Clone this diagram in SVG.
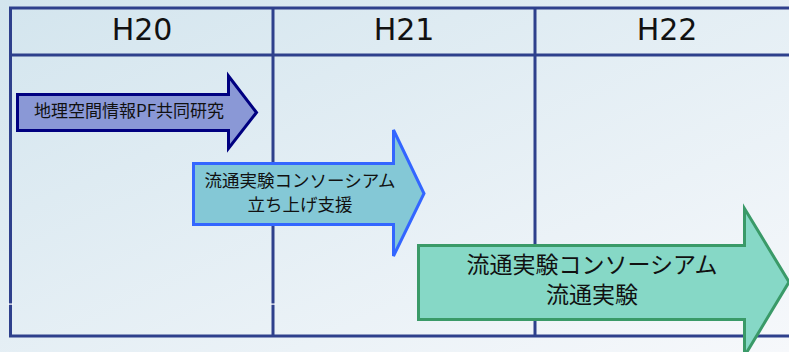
<svg xmlns="http://www.w3.org/2000/svg" width="789" height="352" viewBox="0 0 789 352">
<defs>
<linearGradient id="bg" x1="0" y1="0" x2="1" y2="1">
<stop offset="0" stop-color="#d3e5ee"/>
<stop offset="1" stop-color="#f6f8fb"/>
</linearGradient>
<style>
.grid{fill:none;stroke:#2e408c;stroke-width:3}
.hdr{font-family:"DejaVu Sans","Noto Sans",sans-serif;font-size:30px;fill:#111;text-anchor:middle}
.lbl{font-family:"Noto Sans CJK JP","Noto Sans",sans-serif;fill:#111;text-anchor:middle}
</style>
</defs>
<rect x="0" y="0" width="789" height="352" fill="url(#bg)"/>
<g id="table">
<rect class="grid" x="10.5" y="8" width="790" height="328"/>
<line class="grid" x1="10.5" y1="55" x2="800" y2="55"/>
<line class="grid" x1="273" y1="8" x2="273" y2="336"/>
<line class="grid" x1="535" y1="8" x2="535" y2="336"/>
<rect x="8" y="303.5" width="5" height="1.2" fill="#ffffff"/>
<rect x="270.5" y="303.5" width="5" height="1.2" fill="#ffffff"/>
</g>
<g id="h20"><text class="hdr" x="142" y="40">H20</text></g>
<g id="h21"><text class="hdr" x="404" y="40">H21</text></g>
<g id="h22"><text class="hdr" x="667" y="40">H22</text></g>
<g id="arrow1">
<path d="M17.5,94.5 H228.5 V76 L256.5,112.5 L228.5,148.5 V130.5 H17.5 Z" fill="#8a98d6" stroke="#000080" stroke-width="3"/>
<text class="lbl" x="129" y="116.5" font-size="17">地理空間情報PF共同研究</text>
</g>
<g id="arrow2">
<path d="M193.5,163.5 H393.5 V130 L424,193.5 L393.5,256 V224.5 H193.5 Z" fill="#84c8d6" stroke="#3366ff" stroke-width="3"/>
<text class="lbl" x="300" y="186.5" font-size="17.5">流通実験コンソーシアム</text>
<text class="lbl" x="300" y="210.5" font-size="17.5">立ち上げ支援</text>
</g>
<g id="arrow3">
<path d="M418.5,245.5 H744.5 V208.5 L789,282 L744.5,356 V319.5 H418.5 Z" fill="#86d8c6" stroke="#3a9a68" stroke-width="3"/>
<text class="lbl" x="592" y="272.5" font-size="23">流通実験コンソーシアム</text>
<text class="lbl" x="592" y="302.5" font-size="23">流通実験</text>
</g>
<g id="connectors"/>
</svg>
